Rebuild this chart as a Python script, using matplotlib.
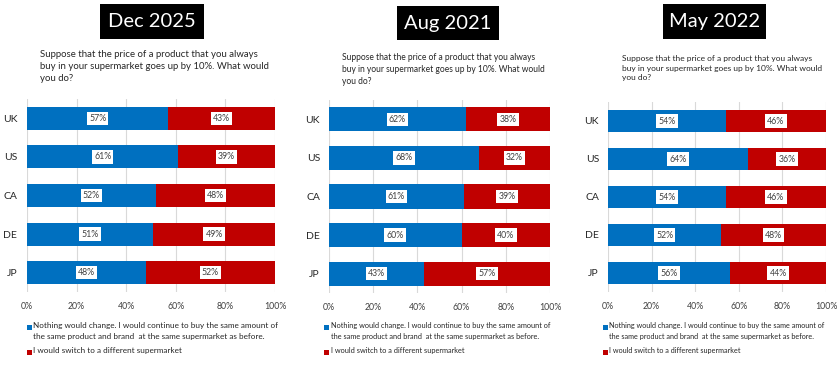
import matplotlib
matplotlib.use("Agg")
import matplotlib.pyplot as plt
from matplotlib.patches import Rectangle

plt.rcParams['font.family'] = ['Lato', 'DejaVu Sans']

countries = ["UK", "US", "CA", "DE", "JP"]
panel_titles = ["Dec 2025", "Aug 2021", "May 2022"]
nothing_dec2025 = [57, 61, 52, 51, 48]
switch_dec2025 = [43, 39, 48, 49, 52]
nothing_aug2021 = [62, 68, 61, 60, 43]
switch_aug2021 = [38, 32, 39, 40, 57]
nothing_may2022 = [54, 64, 54, 52, 56]
switch_may2022 = [46, 36, 46, 48, 44]
tick_values = [0, 20, 40, 60, 80, 100]
tick_labels = ["0%", "20%", "40%", "60%", "80%", "100%"]
question = "Suppose that the price of a product that you always\nbuy in your supermarket goes up by 10%. What would\nyou do?"
legend_nothing = "Nothing would change. I would continue to buy the same amount of\nthe same product and brand  at the same supermarket as before."
legend_switch = "I would switch to a different supermarket"

BLUE = "#0070C0"
RED = "#C00000"
W, H = 840, 365

fig = plt.figure(figsize=(W / 100, H / 100), dpi=100)

# layout in pixel coordinates (x0, x1, top, bottom, bar_h, ylabel_pad)
layouts = [
    (27, 275, 99, 292, 0.60, 7.0),
    (329, 550, 100, 293, 0.63, 6.5),
    (608, 826, 102, 292, 0.60, 6.5),
]
title_boxes = [(100, 204, 4, 39), (397, 499, 6, 40), (663, 766, 4, 39)]
question_pos = [(40, 50, 6.95), (342, 53, 6.15), (622, 55, 6.0)]
legend_pos = [(27, 33, 5.9), (324, 331, 5.35), (603, 609, 5.25)]

data = [
    (nothing_dec2025, switch_dec2025),
    (nothing_aug2021, switch_aug2021),
    (nothing_may2022, switch_may2022),
]

for i in range(3):
    x0, x1, top, bot, bh, ypad = layouts[i]
    ax = fig.add_axes([x0 / W, 1 - bot / H, (x1 - x0) / W, (bot - top) / H])
    nothing, switch = data[i]
    ypos = list(range(len(countries)))
    ax.barh(ypos, nothing, height=bh, color=BLUE, zorder=2)
    ax.barh(ypos, switch, left=nothing, height=bh, color=RED, zorder=2)
    for y, n, s in zip(ypos, nothing, switch):
        ax.text(n / 2, y, f"{n}%", ha="center", va="center", fontsize=6.3,
                color="#404040", zorder=3,
                bbox=dict(facecolor="white", edgecolor="none", pad=1.6))
        ax.text(n + s / 2, y, f"{s}%", ha="center", va="center", fontsize=6.3,
                color="#404040", zorder=3,
                bbox=dict(facecolor="white", edgecolor="none", pad=1.6))
    ax.set_xlim(0, 100)
    ax.set_ylim(len(countries) - 0.5, -0.5)
    ax.set_yticks(ypos)
    ax.set_yticklabels(countries, fontsize=7.5, color="#262626")
    ax.set_xticks(tick_values)
    ax.set_xticklabels(tick_labels, fontsize=6.3, color="#404040")
    ax.tick_params(axis="both", length=0)
    ax.tick_params(axis="y", pad=ypad)
    ax.tick_params(axis="x", pad=7)
    ax.grid(axis="x", color="#D9D9D9", linewidth=0.8, zorder=0)
    for sp in ax.spines.values():
        sp.set_visible(False)

    # title box
    bx0, bx1, by0, by1 = title_boxes[i]
    fig.patches.append(Rectangle((bx0 / W, 1 - by1 / H), (bx1 - bx0) / W, (by1 - by0) / H,
                                 transform=fig.transFigure, facecolor="black",
                                 edgecolor="none"))
    fig.text((bx0 + bx1) / 2 / W, 1 - (by0 + by1) / 2 / H, panel_titles[i],
             ha="center", va="center", fontsize=14.5, color="white")

    qx, qy, qfs = question_pos[i]
    fig.text(qx / W, 1 - qy / H, question, ha="left", va="top", fontsize=qfs,
             color="#262626", linespacing=1.45)

    # legend
    sqx, tx, lfs = legend_pos[i]
    fig.patches.append(Rectangle((sqx / W, 1 - 330 / H), 5 / W, 5 / H,
                                 transform=fig.transFigure, facecolor=BLUE))
    fig.text(tx / W, 1 - 322 / H, legend_nothing, ha="left", va="top",
             fontsize=lfs, color="#262626", linespacing=1.6)
    fig.patches.append(Rectangle((sqx / W, 1 - 355 / H), 5 / W, 5 / H,
                                 transform=fig.transFigure, facecolor=RED))
    fig.text(tx / W, 1 - 347.5 / H, legend_switch, ha="left", va="top",
             fontsize=lfs, color="#262626")

fig.savefig("out.png", dpi=100)
